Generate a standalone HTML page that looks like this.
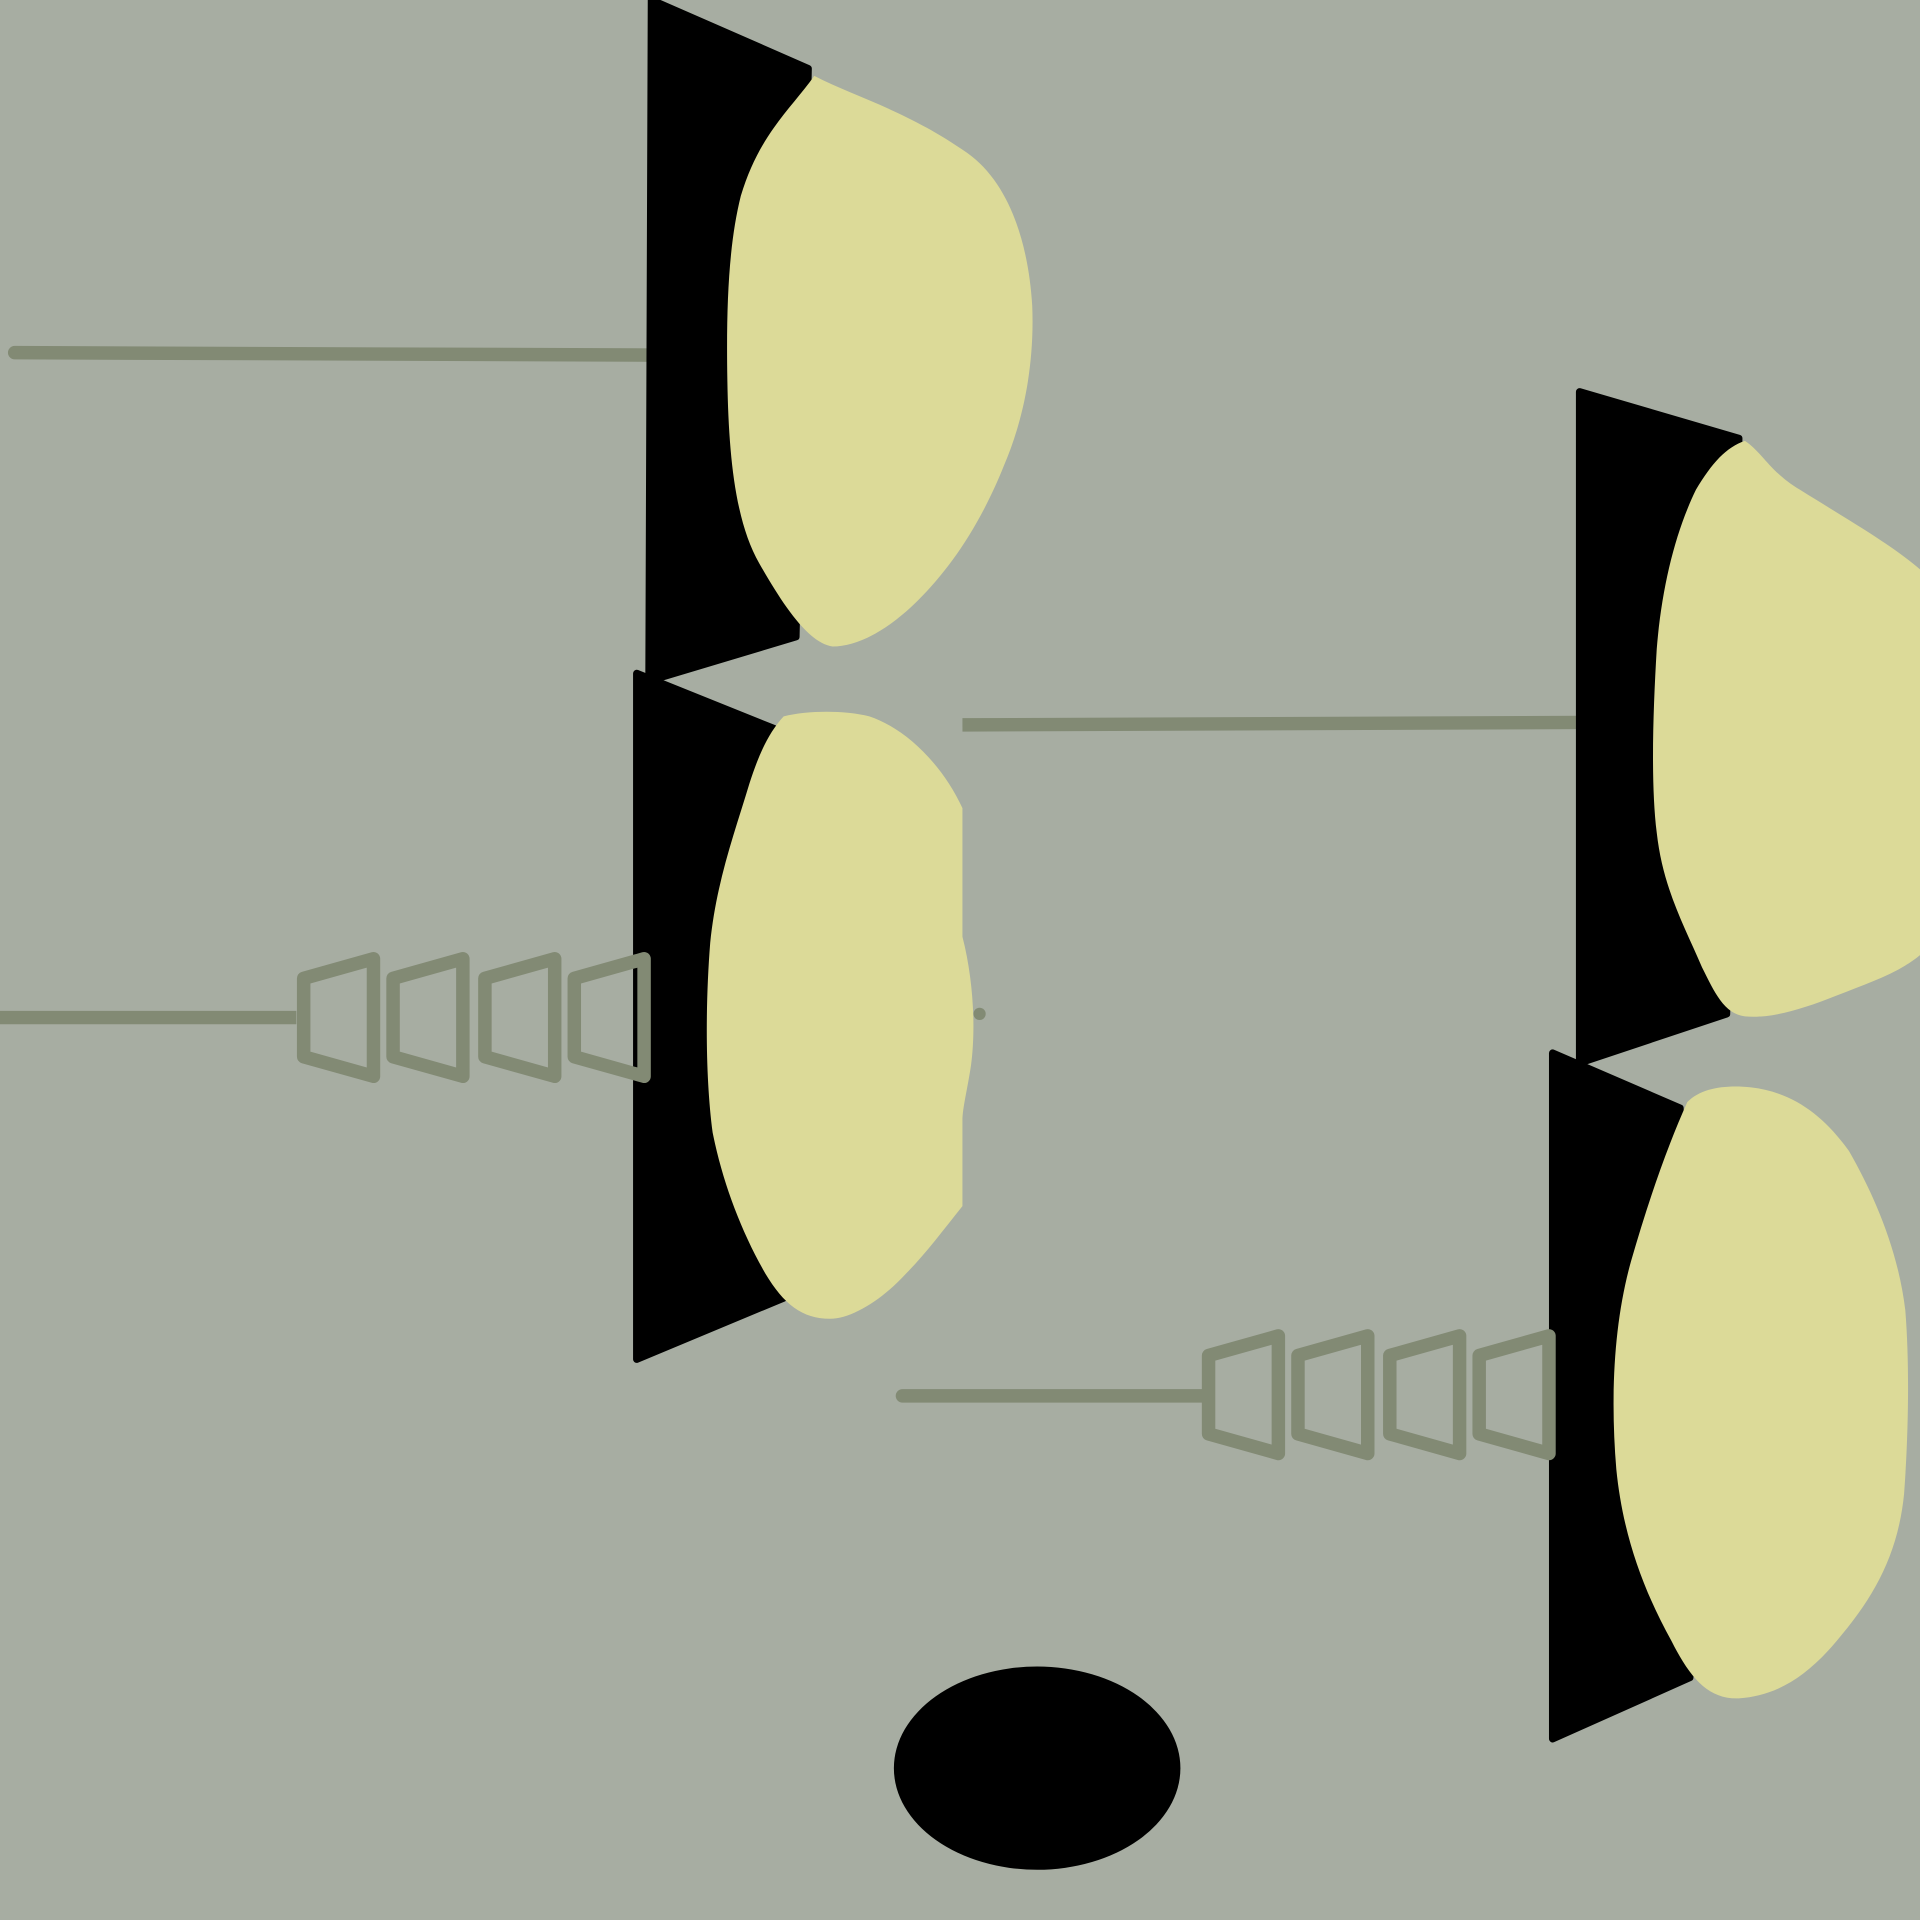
<!DOCTYPE html>
<html>
<head>
<meta charset="utf-8">
<style>
html,body{margin:0;padding:0;background:#a7ada2;}
svg{display:block;}
</style>
</head>
<body>
<svg width="1920" height="1920" viewBox="0 0 1568 1568" xmlns="http://www.w3.org/2000/svg">
  <rect x="0" y="0" width="1568" height="1568" fill="#a7ada2"/>

  <!-- lines -->
  <g stroke="#828a74" stroke-width="11" stroke-linecap="round" fill="none">
    <line x1="12" y1="288" x2="535" y2="290"/>
    <line x1="0" y1="831" x2="242" y2="831" stroke-linecap="butt"/>
    <line x1="786" y1="592" x2="1292" y2="590" stroke-linecap="butt"/>
    <line x1="737" y1="1140" x2="982" y2="1140"/>
  </g>

  <!-- top group -->
  <polygon points="532,0 660,56 650,520 530,556" fill="#000" stroke="#000" stroke-width="6" stroke-linejoin="round"/>
  <path fill="#dcda98" d="M665,62 C700,80 740,90 790,125 C825,150 840,200 843,250 C845,300 835,345 820,380 C800,430 775,465 750,490 C725,515 700,528 680,528 C660,525 640,495 620,460 C600,425 595,370 594,310 C593,250 595,200 605,160 C620,110 645,90 665,62 Z"/>

  <!-- middle-left group -->
  <polygon points="520,550 632,595 640,1060 520,1110" fill="#000" stroke="#000" stroke-width="6" stroke-linejoin="round"/>
  <path fill="#dcda98" d="M640,585 C660,580 690,580 710,585 C740,595 770,625 786,660 L786,765 C795,800 797,840 793,870 C790,890 786,905 786,915 L786,985 C770,1005 755,1025 740,1040 C720,1062 695,1077 678,1077 C655,1077 640,1065 625,1040 C605,1005 590,965 582,925 C576,880 576,820 580,770 C585,720 600,680 612,640 C620,615 628,598 640,585 Z"/>
  <circle cx="800" cy="828" r="5" fill="#828a74"/>
  <g stroke="#828a74" stroke-width="11" stroke-linejoin="round" fill="none">
    <polygon points="248,799 305,783 305,879 248,863"/>
    <polygon points="321,799 378,783 378,879 321,863"/>
    <polygon points="396,799 453,783 453,879 396,863"/>
    <polygon points="469,799 526,783 526,879 469,863"/>
  </g>

  <!-- right top group -->
  <polygon points="1290,320 1420,358 1410,828 1290,868" fill="#000" stroke="#000" stroke-width="6" stroke-linejoin="round"/>
  <path fill="#dcda98" d="M1425,360 C1440,370 1445,385 1470,400 C1510,425 1545,445 1568,465 L1568,780 C1550,795 1525,803 1500,813 C1470,825 1445,832 1425,830 C1408,828 1400,810 1390,790 C1375,755 1358,725 1353,680 C1348,640 1350,580 1353,530 C1357,480 1368,435 1385,400 C1398,378 1410,365 1425,360 Z"/>

  <!-- right bottom group -->
  <polygon points="1268,860 1372,905 1380,1370 1268,1420" fill="#000" stroke="#000" stroke-width="6" stroke-linejoin="round"/>
  <path fill="#dcda98" d="M1378,900 C1390,888 1410,886 1430,888 C1465,892 1490,912 1510,940 C1530,975 1550,1020 1556,1070 C1560,1120 1558,1180 1555,1220 C1550,1270 1530,1305 1500,1340 C1475,1370 1450,1385 1420,1387 C1395,1388 1380,1370 1365,1340 C1340,1295 1325,1250 1320,1200 C1315,1140 1318,1080 1332,1030 C1345,985 1360,940 1378,900 Z"/>
  <g stroke="#828a74" stroke-width="11" stroke-linejoin="round" fill="none">
    <polygon points="987,1107 1044,1091 1044,1187 987,1171"/>
    <polygon points="1060,1107 1117,1091 1117,1187 1060,1171"/>
    <polygon points="1135,1107 1192,1091 1192,1187 1135,1171"/>
    <polygon points="1208,1107 1265,1091 1265,1187 1208,1171"/>
  </g>

  <ellipse cx="847" cy="1444" rx="117" ry="83" fill="#000"/>
</svg>
</body>
</html>
